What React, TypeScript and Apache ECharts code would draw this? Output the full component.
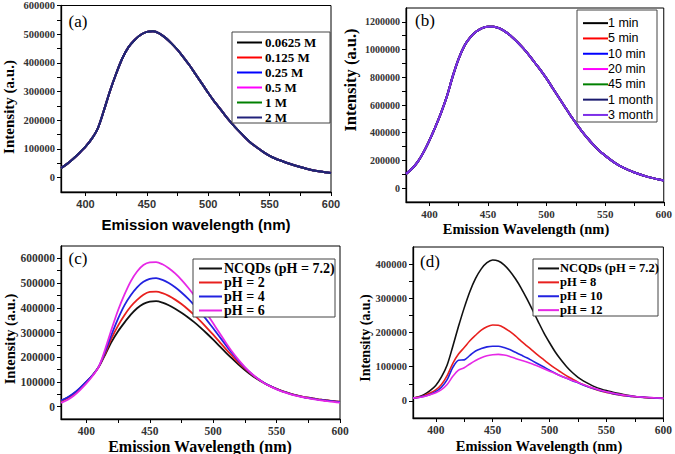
import React, { useEffect, useRef } from "react";
import * as echarts from "echarts";

// ---------- data ----------
const WAVELENGTH = [
  380, 385, 390, 395, 400, 405, 410, 415, 420, 425, 430, 435, 440, 445, 450,
  455, 460, 465, 470, 475, 480, 485, 490, 495, 500, 505, 510, 515, 520, 525,
  530, 535, 540, 545, 550, 555, 560, 565, 570, 575, 580, 585, 590, 595, 600,
];

// (a) concentration series (all six spectra overlap)
const A_NAMES = ["0.0625 M", "0.125 M", "0.25 M", "0.5 M", "1 M", "2 M"];
const A_COLORS = ["#000000", "#ff0000", "#0000ff", "#ff00ff", "#008000", "#22227a"];
const A_INTENSITY = [
  33000, 48000, 66000, 86000, 108000, 135000, 172000, 235000, 303000, 363000,
  416000, 455000, 480000, 498000, 508000, 510000, 503000, 488000, 468000, 445000,
  418000, 390000, 358000, 327000, 295000, 265000, 238000, 210000, 185000, 162000,
  140000, 120000, 104000, 89000, 76000, 66000, 58000, 50000, 43000, 37000,
  31000, 26000, 22000, 18500, 16000,
];

// (b) time series (all seven spectra overlap)
const B_NAMES = ["1 min", "5 min", "10 min", "20 min", "45 min", "1 month", "3 month"];
const B_COLORS = ["#000000", "#ff0000", "#0000ff", "#ff00ff", "#008000", "#1a1a6e", "#7d2fe8"];
const B_INTENSITY = [
  103000, 140000, 190000, 260000, 345000, 440000, 545000, 665000, 810000, 935000,
  1030000, 1090000, 1130000, 1155000, 1165000, 1165000, 1152000, 1128000, 1095000, 1055000,
  1010000, 960000, 905000, 850000, 790000, 725000, 660000, 595000, 530000, 470000,
  412000, 360000, 312000, 270000, 235000, 202000, 174000, 150000, 130000, 113000,
  98000, 85000, 74000, 64000, 55000,
];

// (c) acidic pH
const C_NAMES = ["NCQDs (pH = 7.2)", "pH = 2", "pH = 4", "pH = 6"];
const C_COLORS = ["#111111", "#e8201e", "#2222e0", "#e628e6"];
const C_NEUTRAL = [
  24000, 36000, 52000, 74000, 100000, 128000, 163000, 212000, 263000, 305000,
  340000, 372000, 398000, 416000, 425000, 427000, 421000, 410000, 396000, 380000,
  362000, 342000, 320000, 296000, 271000, 245000, 219000, 194000, 170000, 148000,
  128000, 111000, 96000, 83000, 72000, 62000, 54000, 47000, 41000, 36000,
  32000, 28000, 25000, 22000, 19000,
];
const C_PH2 = [
  22000, 34000, 51000, 73000, 99000, 127000, 163000, 218000, 278000, 328000,
  370000, 405000, 432000, 453000, 464000, 465000, 459000, 448000, 433000, 415000,
  394000, 371000, 346000, 319000, 291000, 262000, 233000, 205000, 178000, 154000,
  132000, 113000, 97000, 83000, 72000, 62000, 54000, 47000, 41000, 36000,
  32000, 28000, 25000, 22000, 20000,
];
const C_PH4 = [
  25000, 37000, 54000, 76000, 101000, 128000, 164000, 225000, 293000, 356000,
  410000, 451000, 483000, 505000, 517000, 520000, 513000, 500000, 483000, 462000,
  438000, 411000, 382000, 350000, 317000, 283000, 249000, 216000, 185000, 158000,
  134000, 114000, 97000, 83000, 71000, 61000, 53000, 46000, 40000, 35000,
  31000, 27000, 24000, 21000, 19000,
];
const C_PH6 = [
  15000, 27000, 44000, 67000, 94000, 125000, 164000, 235000, 315000, 390000,
  453000, 507000, 547000, 573000, 584000, 585000, 576000, 560000, 539000, 513000,
  483000, 450000, 414000, 376000, 337000, 298000, 259000, 222000, 189000, 160000,
  135000, 114000, 96000, 82000, 70000, 60000, 52000, 45000, 39000, 34000,
  29000, 25000, 22000, 19000, 16000,
];

// (d) basic pH
const D_NAMES = ["NCQDs (pH = 7.2)", "pH = 8", "pH = 10", "pH = 12"];
const D_COLORS = ["#111111", "#e8201e", "#2222e0", "#e628e6"];
const D_NEUTRAL = [
  8000, 12000, 19000, 30000, 45000, 70000, 105000, 160000, 218000, 272000,
  320000, 358000, 386000, 404000, 412000, 409000, 398000, 380000, 357000, 330000,
  299000, 266000, 232000, 199000, 170000, 143000, 120000, 100000, 83000, 69000,
  58000, 49000, 41000, 35000, 30000, 26000, 22000, 18500, 15500, 13000,
  11500, 10000, 9000, 8500, 8000,
];
const D_PH8 = [
  8000, 11000, 16000, 23000, 32000, 48000, 74000, 110000, 137000, 156000,
  176000, 192000, 207000, 217000, 222000, 221000, 214000, 203000, 190000, 175000,
  161000, 147000, 133000, 120000, 107000, 95000, 84000, 73000, 64000, 55000,
  47000, 40000, 34000, 29000, 25000, 21000, 18000, 15500, 13500, 12000,
  10500, 9500, 8500, 8000, 7500,
];
const D_PH10 = [
  8000, 10000, 14000, 19000, 27000, 40000, 62000, 98000, 119000, 120000,
  133000, 146000, 153000, 158000, 160000, 160000, 156000, 150000, 142000, 134000,
  126000, 117000, 108000, 99000, 90000, 81000, 73000, 66000, 59000, 53000,
  46000, 40000, 35000, 30000, 26000, 22000, 19000, 16000, 14000, 12500,
  11000, 10000, 9000, 8000, 7500,
];
const D_PH12 = [
  8000, 10000, 13000, 18000, 24000, 33000, 48000, 72000, 90000, 97000,
  108000, 118000, 126000, 132000, 135000, 136000, 134000, 130000, 124000, 119000,
  114000, 108000, 101000, 94000, 87000, 80000, 73000, 66000, 60000, 54000,
  47000, 41000, 36000, 31000, 27000, 23000, 20000, 17000, 15000, 13000,
  11500, 10500, 9500, 8500, 8000,
];

// tick labels / tick positions
const X_LABELS = [400, 450, 500, 550, 600];
const X_TICKS = [400, 425, 450, 475, 500, 525, 550, 575, 600];
const YA_LABELS = [0, 100000, 200000, 300000, 400000, 500000, 600000];
const YA_TICKS = [0, 50000, 100000, 150000, 200000, 250000, 300000, 350000, 400000, 450000, 500000, 550000, 600000];
const YB_LABELS = [0, 200000, 400000, 600000, 800000, 1000000, 1200000];
const YB_TICKS = [0, 100000, 200000, 300000, 400000, 500000, 600000, 700000, 800000, 900000, 1000000, 1100000, 1200000];
const YC_LABELS = [0, 100000, 200000, 300000, 400000, 500000, 600000];
const YC_TICKS = [0, 50000, 100000, 150000, 200000, 250000, 300000, 350000, 400000, 450000, 500000, 550000, 600000];
const YD_LABELS = [0, 100000, 200000, 300000, 400000];
const YD_TICKS = [0, 50000, 100000, 150000, 200000, 250000, 300000, 350000, 400000];

const SERIF = "'Liberation Serif', 'Times New Roman', serif";
const SANS = "'Liberation Sans', Arial, sans-serif";

const plain = (v: number) => String(v);

function xAxisOf(grid: number, family: string, size: number) {
  return {
    type: "value",
    gridIndex: grid,
    min: 380,
    max: 600,
    axisLine: { show: true, onZero: false, lineStyle: { color: "#000", width: 1.3 } },
    axisTick: { show: true, length: 4, customValues: X_TICKS, lineStyle: { color: "#000", width: 1 } },
    axisLabel: {
      show: true,
      customValues: X_LABELS,
      formatter: plain,
      margin: 6,
      fontFamily: family,
      fontWeight: "bold",
      fontSize: size,
      color: "#333",
    },
    splitLine: { show: false },
  };
}

function yAxisOf(grid: number, min: number, max: number, labels: number[], ticks: number[], size: number) {
  return {
    type: "value",
    gridIndex: grid,
    min,
    max,
    axisLine: { show: true, onZero: false, lineStyle: { color: "#000", width: 1.3 } },
    axisTick: { show: true, length: 4, customValues: ticks, lineStyle: { color: "#000", width: 1 } },
    axisLabel: {
      show: true,
      customValues: labels,
      formatter: plain,
      margin: 6,
      fontFamily: SERIF,
      fontWeight: "bold",
      fontSize: size,
      color: "#333",
    },
    splitLine: { show: false },
  };
}

function lineSeries(name: string, color: string, values: number[], idx: number, width: number) {
  return {
    type: "line",
    name,
    xAxisIndex: idx,
    yAxisIndex: idx,
    data: WAVELENGTH.map((w, i) => [w, values[i]]),
    showSymbol: false,
    symbol: "none",
    smooth: 0.3,
    color,
    itemStyle: { color },
    lineStyle: { color, width },
    silent: true,
    z: 2,
  };
}

function legendOf(names: string[], left: number, top: number, lineW: number, size: number, lineH: number, family: string, weight: string, shift: number) {
  return {
    show: true,
    orient: "vertical",
    left,
    top,
    padding: 0,
    itemGap: 0,
    itemWidth: lineW,
    itemHeight: 2,
    icon: "rect",
    selectedMode: false,
    data: names,
    z: 5,
    textStyle: {
      fontFamily: family,
      fontWeight: weight,
      fontSize: size,
      lineHeight: lineH,
      color: "#000",
      padding: [0, 0, 0, shift],
    },
  };
}

function title(text: string, x: number, y: number, size: number, family: string, rotate = false, weight = "bold") {
  return {
    type: "text",
    x,
    y,
    rotation: rotate ? Math.PI / 2 : 0,
    z: 6,
    style: {
      text,
      fontFamily: family,
      fontWeight: weight,
      fontSize: size,
      fill: "#000",
      align: "center",
      verticalAlign: "middle",
    },
  };
}

function box(x: number, y: number, w: number, h: number) {
  return {
    type: "rect",
    z: 3,
    shape: { x, y, width: w, height: h },
    style: { fill: "#fff", stroke: "#444", lineWidth: 1 },
  };
}

export default function App() {
  const ref = useRef<HTMLDivElement>(null);

  useEffect(() => {
    if (!ref.current) return;
    const chart = echarts.init(ref.current, null, { renderer: "svg" });

    const gridStyle = { show: true, borderColor: "#000", borderWidth: 1, backgroundColor: "transparent", containLabel: false };

    const series: any[] = [];
    A_NAMES.forEach((n, i) => series.push(lineSeries(n, A_COLORS[i], A_INTENSITY, 0, 2)));
    B_NAMES.forEach((n, i) => series.push(lineSeries(n, B_COLORS[i], B_INTENSITY, 1, 2)));
    [C_NEUTRAL, C_PH2, C_PH4, C_PH6].forEach((v, i) => series.push(lineSeries(C_NAMES[i], C_COLORS[i], v, 2, 1.8)));
    [D_NEUTRAL, D_PH8, D_PH10, D_PH12].forEach((v, i) => series.push(lineSeries(D_NAMES[i], D_COLORS[i], v, 3, 1.6)));

    chart.setOption({
      animation: false,
      backgroundColor: "#fff",
      grid: [
        { ...gridStyle, left: 61, top: 5, width: 270, height: 187 },
        { ...gridStyle, left: 406, top: 8, width: 258, height: 194 },
        { ...gridStyle, left: 61, top: 246, width: 279, height: 173 },
        { ...gridStyle, left: 413, top: 247, width: 252, height: 171 },
      ],
      xAxis: [
        xAxisOf(0, SANS, 11),
        xAxisOf(1, SERIF, 11),
        xAxisOf(2, SERIF, 11.5),
        xAxisOf(3, SERIF, 11.5),
      ],
      yAxis: [
        yAxisOf(0, -50000, 600000, YA_LABELS, YA_TICKS, 10.5),
        yAxisOf(1, -100000, 1300000, YB_LABELS, YB_TICKS, 10),
        yAxisOf(2, -50000, 650000, YC_LABELS, YC_TICKS, 11.5),
        yAxisOf(3, -50000, 450000, YD_LABELS, YD_TICKS, 10.5),
      ],
      legend: [
        legendOf(A_NAMES, 237, 35, 25, 13, 15, SERIF, "bold", -2),
        legendOf(B_NAMES, 583, 15.5, 25, 12.5, 15.3, SANS, "normal", -5),
        legendOf(C_NAMES, 199, 261.5, 23, 14, 13.9, SERIF, "bold", -3),
        legendOf(D_NAMES, 538, 261.5, 21, 12.5, 13.9, SERIF, "bold", -4),
      ],
      graphic: [
        box(232, 32, 98, 91),
        box(577, 10, 80, 112),
        box(193, 259, 142, 58),
        box(533, 259, 125, 57),
        title("(a)", 78, 21, 17, SERIF, false, "normal"),
        title("(b)", 425, 20, 17, SERIF, false, "normal"),
        title("(c)", 78, 258, 17, SERIF, false, "normal"),
        title("(d)", 430, 261, 17, SERIF, false, "normal"),
        title("Emission wavelength (nm)", 196, 224, 15, SANS),
        title("Emission Wavelength (nm)", 526, 229, 14.5, SERIF),
        title("Emission Wavelength (nm)", 200, 446, 16, SERIF),
        title("Emission Wavelength (nm)", 539, 446, 14.5, SERIF),
        title("Intensity (a.u.)", 9, 107, 15, SERIF, true),
        title("Intensity (a.u.)", 350, 80, 16.5, SERIF, true),
        title("Intensity (a.u.)", 10, 339, 14.5, SERIF, true),
        title("Intensity (a.u.)", 365, 338, 14, SERIF, true),
      ],
      series,
    });

    return () => chart.dispose();
  }, []);

  return (
    <div
      ref={ref}
      style={{ position: "absolute", left: 0, top: 0, width: 675, height: 454 }}
    />
  );
}
